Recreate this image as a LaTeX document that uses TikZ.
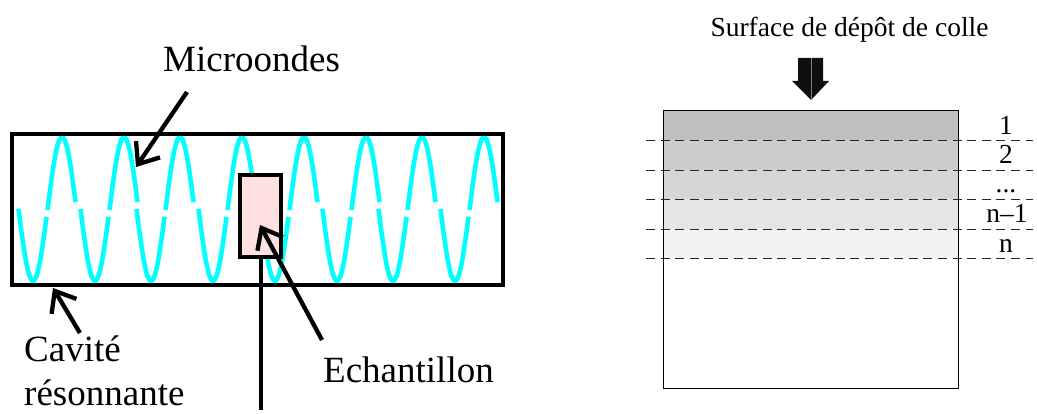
\documentclass[tikz,border=0pt]{standalone}
\usepackage{fontspec}
\setmainfont{Liberation Serif}
\usetikzlibrary{arrows.meta}
\definecolor{wave}{HTML}{00FFFF}
\definecolor{pinkfill}{HTML}{FFE0E0}
\definecolor{blockc}{HTML}{0F0F0F}
\tikzset{
  heavy/.style={line width=4.3pt,draw=black},
  pointer/.style={line width=4.3pt,draw=black,-{Straight Barb[length=18pt,width=29pt,line width=4.3pt]}},
  wavepart/.style={line width=4.6pt,draw=wave,line cap=butt,samples=30},
  cut/.style={draw=black!85,line width=0.9pt,dash pattern=on 9pt off 5.6pt},
  biglabel/.style={inner sep=0pt,anchor=base west,font=\fontsize{37}{37}\selectfont},
  smalllabel/.style={inner sep=0pt,anchor=base,font=\fontsize{27.5}{28}\selectfont},
  layerbox/.style={draw=none,inner sep=0pt,outer sep=0pt,anchor=north west,minimum width=295pt,minimum height=29.5pt}
}
\begin{document}
\begin{tikzpicture}[x=1pt,y=-1pt]
\useasboundingbox (0,0) rectangle (1037,414);
% wave
\foreach \xp in {62,124,180,242,304,366,422,484}
  \draw[wavepart,domain=-14.5:13.5] plot ({\xp+\x},{210-73*cos(90*\x/14.5)});
\foreach \xp in {33,95,151,213,275,337,393,455}
  \draw[wavepart,domain=-14.5:13.5] plot ({\xp+\x},{209+72*cos(90*\x/14.5)});
% cavity and sample
\node[heavy,inner sep=0pt,outer sep=0pt,minimum width=491pt,minimum height=151pt] (cavity) at (257.5,209.5) {};
\coordinate (rodend) at (261,410);
\coordinate (microtail) at (187,92);
\coordinate (microtip) at (136,167);
\coordinate (cavtail) at (80,333);
\coordinate (cavtip) at (53,288);
\coordinate (echtail) at (322,340);
\coordinate (echtip) at (260,225);
\draw[heavy] (261,258) -- (rodend);
\node[heavy,fill=pinkfill,inner sep=0pt,outer sep=0pt,minimum width=41pt,minimum height=82pt] (sample) at (260.5,216) {};
\draw[pointer] (microtail) -- (microtip);
\draw[pointer] (cavtail) -- (cavtip);
\draw[pointer] (echtail) -- (echtip);
\node[biglabel] (lmicro) at (163,72) {Microondes};
\node[biglabel] (lcav) at (24,362) {Cavité};
\node[biglabel] (lres) at (24,405) {résonnante};
\node[biglabel] (lech) at (323,382) {Echantillon};
% right part
\node[smalllabel] (lsurf) at (849.5,37) {Surface de dépôt de colle};
\fill[blockc] (798,58) -- (823,58) -- (823,81) -- (829,81) -- (811,100) -- (792,81) -- (798,81) -- cycle;
\draw[gray,line width=0.4pt] (811,58) -- (811,100);
\node[layerbox,fill=black!25] (l1) at (663,111) {};
\node[layerbox,fill=black!20] (l2) at (663,140.5) {};
\node[layerbox,fill=black!16] (l3) at (663,170) {};
\node[layerbox,fill=black!10] (l4) at (663,199.5) {};
\node[layerbox,fill=black!5] (l5) at (663,229) {};
\node[draw=black,line width=1pt,inner sep=0pt,outer sep=0pt,anchor=north west,minimum width=295pt,minimum height=277pt] (block) at (663,111) {};
\foreach \yy in {140.5,170,199.5,229,258.5}
  \draw[cut] (646,\yy) -- (1033,\yy);
\node[smalllabel] (n1) at (1006,135) {1};
\node[smalllabel] (n2) at (1006,164) {2};
\node[smalllabel] (n3) at (1006,193) {...};
\node[smalllabel] (n4) at (1007,223) {n–1};
\node[smalllabel] (n5) at (1006,253) {n};
\end{tikzpicture}
\end{document}
